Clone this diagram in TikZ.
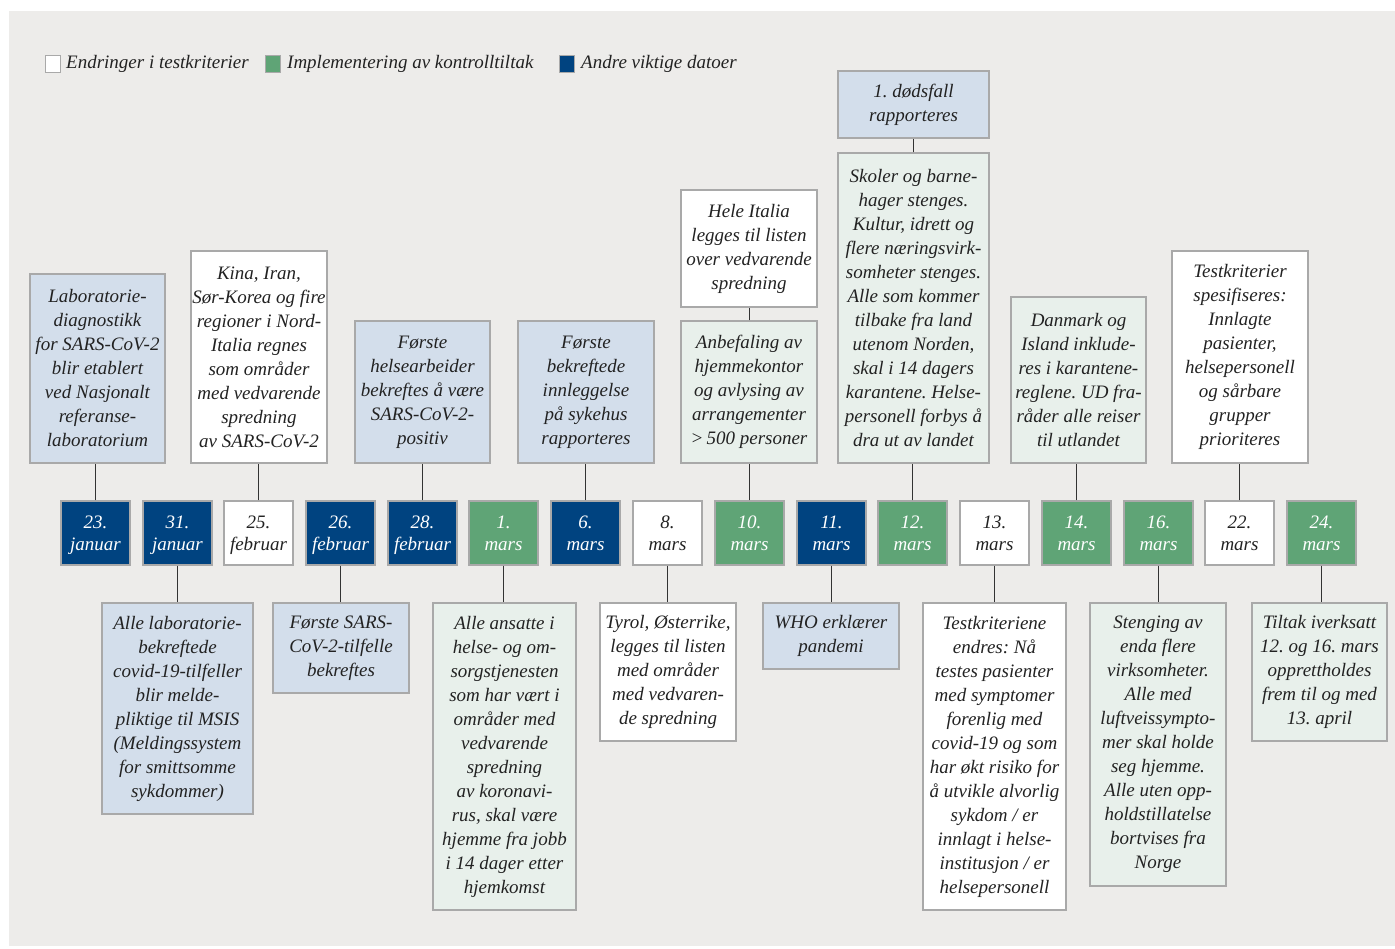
\documentclass[tikz,border=0pt]{standalone}
\usepackage{fontspec}
\setmainfont{Liberation Serif}
\frenchspacing
\definecolor{bggrey}{HTML}{EDECEA}
\definecolor{lblue}{HTML}{D3DEEB}
\definecolor{lgreen}{HTML}{E8F0EB}
\definecolor{navy}{HTML}{004380}
\definecolor{mgreen}{HTML}{5FA476}
\definecolor{bordergrey}{HTML}{A9A9A9}
\definecolor{linegrey}{HTML}{333333}
\definecolor{txt}{HTML}{222222}
\tikzset{
  box/.style={draw=bordergrey, line width=1.2pt, align=center, inner xsep=0pt, inner ysep=0pt,
    font=\fontsize{19}{24}\selectfont\itshape\frenchspacing, text=txt},
  bluebox/.style={box, fill=lblue},
  greenbox/.style={box, fill=lgreen},
  whitebox/.style={box, fill=white},
  bx/.style 2 args={minimum width=#1pt, minimum height=#2pt},
  datebox/.style={draw=bordergrey, line width=1.2pt, align=center, inner sep=0pt,
    minimum width=69pt, minimum height=64pt, text depth=0pt,
    font=\fontsize{19}{22}\selectfont\itshape},
  dnavy/.style={datebox, fill=navy, text=white},
  dgreen/.style={datebox, fill=mgreen, text=white},
  dwhite/.style={datebox, fill=white, text=txt},
  conn/.style={draw=linegrey, line width=1pt},
  legsq/.style={draw=bordergrey, line width=1pt, minimum width=15pt, minimum height=17pt, inner sep=0pt},
  legtxt/.style={font=\fontsize{19}{24}\selectfont\itshape, text=txt, anchor=west, inner sep=0pt}
}
\begin{document}
\begin{tikzpicture}[x=1pt,y=-1pt]
\useasboundingbox (0,0) rectangle (1395,948);
\fill[white] (0,0) rectangle (1395,948);
\fill[bggrey] (9,11) rectangle (1395,946);

% legend
\node[legsq, fill=white] (lw) at (52.5,63.5) {};
\node[legtxt] (lwt) at (66,64) {Endringer i testkriterier};
\node[legsq, fill=mgreen] (lg) at (272.5,63.5) {};
\node[legtxt] (lgt) at (287,64) {Implementering av kontrolltiltak};
\node[legsq, fill=navy] (lb) at (566.5,63.5) {};
\node[legtxt] (lbt) at (581,64) {Andre viktige datoer};

% date boxes
\node[dnavy]  (d1)  at (95.5,533)  {23.\\januar};
\node[dnavy]  (d2)  at (177.5,533) {31.\\januar};
\node[dwhite] (d3)  at (258.5,533) {25.\\februar};
\node[dnavy]  (d4)  at (340.5,533) {26.\\februar};
\node[dnavy]  (d5)  at (422.5,533) {28.\\februar};
\node[dgreen] (d6)  at (503.5,533) {1.\\mars};
\node[dnavy]  (d7)  at (585.5,533) {6.\\mars};
\node[dwhite] (d8)  at (667.5,533) {8.\\mars};
\node[dgreen] (d9)  at (749.5,533) {10.\\mars};
\node[dnavy]  (d10) at (831.5,533) {11.\\mars};
\node[dgreen] (d11) at (912.5,533) {12.\\mars};
\node[dwhite] (d12) at (994.5,533) {13.\\mars};
\node[dgreen] (d13) at (1076.5,533) {14.\\mars};
\node[dgreen] (d14) at (1158.5,533) {16.\\mars};
\node[dwhite] (d15) at (1239.5,533) {22.\\mars};
\node[dgreen] (d16) at (1321.5,533) {24.\\mars};

% upper boxes
\node[bluebox, bx={135}{189}] (lab) at (97.5,368.5) {Laboratorie-\\diagnostikk\\for SARS-CoV-2\\blir etablert\\ved Nasjonalt\\referanse-\\laboratorium};
\node[whitebox, bx={136}{212}] (kina) at (259,357) {Kina, Iran,\\Sør-Korea og fire\\regioner i Nord-\\Italia regnes\\som områder\\med vedvarende\\spredning\\av SARS-CoV-2};
\node[bluebox, bx={135}{142}] (fh) at (422.5,392) {Første\\helsearbeider\\bekreftes å være\\SARS-CoV-2-\\positiv};
\node[bluebox, bx={136}{142}] (fb) at (586,392) {Første\\bekreftede\\innleggelse\\på sykehus\\rapporteres};
\node[whitebox, bx={136}{117}] (hi) at (749,248.5) {Hele Italia\\legges til listen\\over vedvarende\\spredning};
\node[greenbox, bx={136}{142}] (an) at (749,392) {Anbefaling av\\hjemmekontor\\og avlysing av\\arrangementer\\{>}\,500 personer};
\node[bluebox, bx={151}{67}] (dod) at (913.5,104.5) {1. dødsfall\\rapporteres};
\node[greenbox, bx={151}{310}] (sk) at (913.5,308) {Skoler og barne-\\hager stenges.\\Kultur, idrett og\\flere næringsvirk-\\somheter stenges.\\Alle som kommer\\tilbake fra land\\utenom Norden,\\skal i 14 dagers\\karantene. Helse-\\personell forbys å\\dra ut av landet};
\node[greenbox, bx={135}{166}] (da) at (1078.5,380) {Danmark og\\Island inklude-\\res i karantene-\\reglene. UD fra-\\råder alle reiser\\til utlandet};
\node[whitebox, bx={136}{212}] (ts) at (1240,357) {Testkriterier\\spesifiseres:\\Innlagte\\pasienter,\\helsepersonell\\og sårbare\\grupper\\prioriteres};

% lower boxes
\node[bluebox, bx={151}{211}] (al) at (177.5,708.5) {Alle laboratorie-\\bekreftede\\covid-19-tilfeller\\blir melde-\\pliktige til MSIS\\(Meldingssystem\\for smittsomme\\sykdommer)};
\node[bluebox, bx={136}{90}] (fs) at (341,648) {Første SARS-\\CoV-2-tilfelle\\bekreftes};
\node[greenbox, bx={143}{307}] (aa) at (504.5,756.5) {Alle ansatte i\\helse- og om-\\sorgstjenesten\\som har vært i\\områder med\\vedvarende\\spredning\\av koronavi-\\rus, skal være\\hjemme fra jobb\\i 14 dager etter\\hjemkomst};
\node[whitebox, bx={136}{138}] (ty) at (668,672) {Tyrol, Østerrike,\\legges til listen\\med områder\\med vedvaren-\\de spredning};
\node[bluebox, bx={136}{66}] (who) at (831,636) {WHO erklærer\\pandemi};
\node[whitebox, bx={143}{307}] (te) at (994.5,756.5) {Testkriteriene\\endres: Nå\\testes pasienter\\med symptomer\\forenlig med\\covid-19 og som\\har økt risiko for\\å utvikle alvorlig\\sykdom / er\\innlagt i helse-\\institusjon / er\\helsepersonell};
\node[greenbox, bx={136}{283}] (st) at (1158,744.5) {Stenging av\\enda flere\\virksomheter.\\Alle med\\luftveissympto-\\mer skal holde\\seg hjemme.\\Alle uten opp-\\holdstillatelse\\bortvises fra\\Norge};
\node[greenbox, bx={135}{138}] (ti) at (1319.5,672) {Tiltak iverksatt\\12. og 16. mars\\opprettholdes\\frem til og med\\13. april};

% connectors (upper)
\draw[conn] (d1.north) -- (d1.north |- lab.south);
\draw[conn] (d3.north) -- (d3.north |- kina.south);
\draw[conn] (d5.north) -- (d5.north |- fh.south);
\draw[conn] (d7.north) -- (d7.north |- fb.south);
\draw[conn] (d9.north) -- (d9.north |- an.south);
\draw[conn] (an.north) -- (hi.south);
\draw[conn] (d11.north) -- (d11.north |- sk.south);
\draw[conn] (sk.north) -- (dod.south);
\draw[conn] (d13.north) -- (d13.north |- da.south);
\draw[conn] (d15.north) -- (d15.north |- ts.south);
% connectors (lower)
\draw[conn] (d2.south) -- (d2.south |- al.north);
\draw[conn] (d4.south) -- (d4.south |- fs.north);
\draw[conn] (d6.south) -- (d6.south |- aa.north);
\draw[conn] (d8.south) -- (d8.south |- ty.north);
\draw[conn] (d10.south) -- (d10.south |- who.north);
\draw[conn] (d12.south) -- (d12.south |- te.north);
\draw[conn] (d14.south) -- (d14.south |- st.north);
\draw[conn] (d16.south) -- (d16.south |- ti.north);
\end{tikzpicture}
\end{document}
